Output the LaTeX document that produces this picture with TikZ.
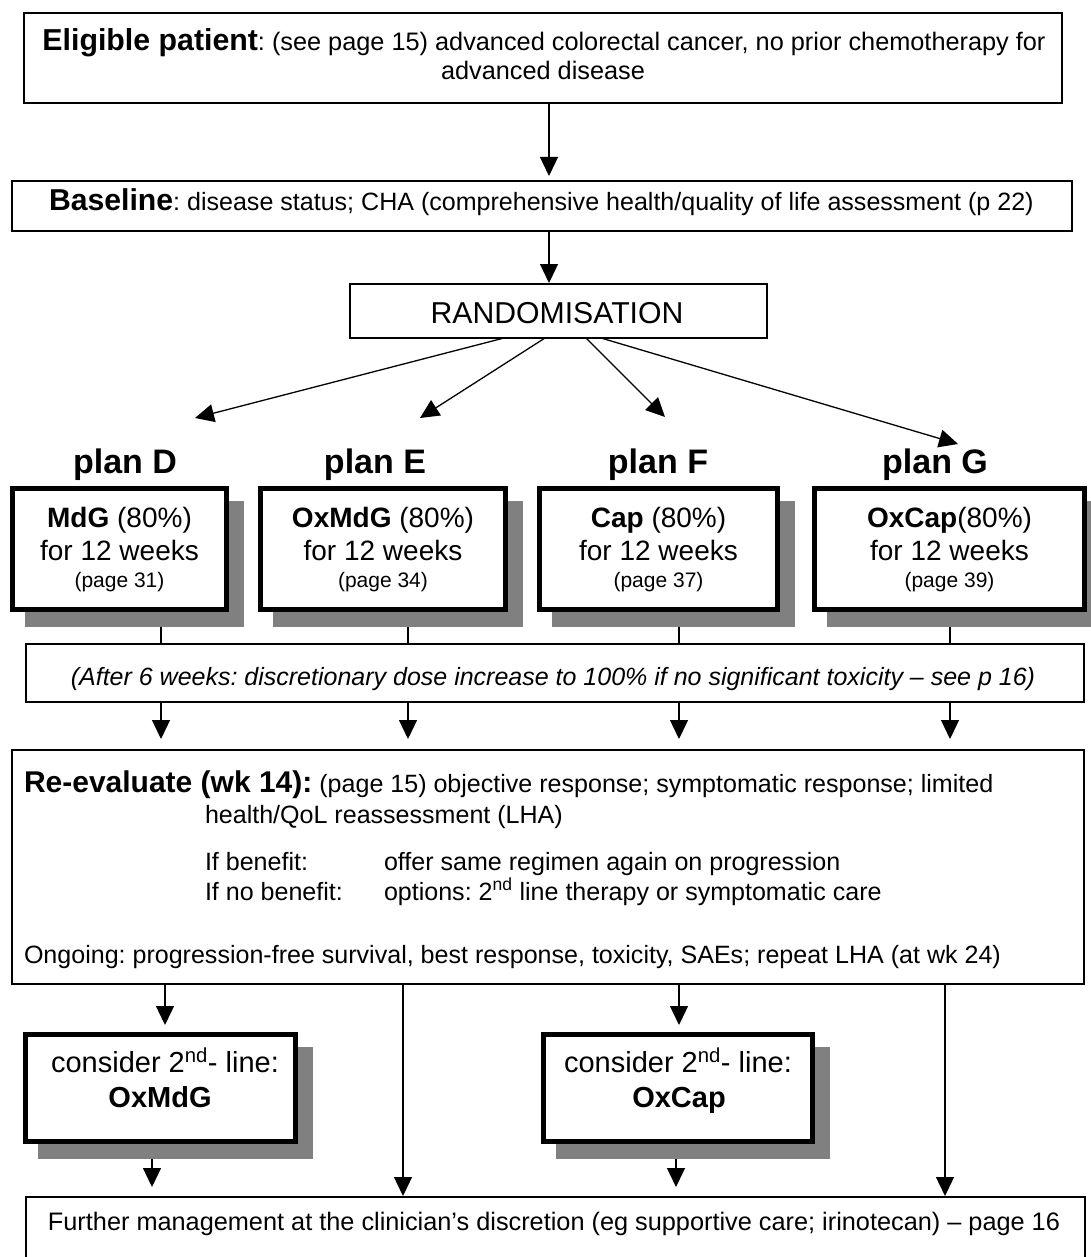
\documentclass[tikz,border=0pt]{standalone}
\usepackage{fontspec}
\setmainfont{Liberation Sans}
\usetikzlibrary{arrows.meta,calc}
\definecolor{shadowgray}{RGB}{128,128,128}
\newcommand\myfs[2]{\fontsize{#1}{#2}\selectfont}
\begin{document}
\frenchspacing
\begin{tikzpicture}[x=1pt,y=-1pt,
  thinbox/.style={draw, line width=1.5pt, outer sep=0pt, inner sep=0pt, fill=white},
  thickbox/.style={draw, line width=5pt, outer sep=0pt, inner sep=0pt, fill=white},
  shadebox/.style={fill=shadowgray, outer sep=0pt, inner sep=0pt},
  lbl/.style={inner sep=0pt, outer sep=0pt, anchor=base},
  lblw/.style={inner sep=0pt, outer sep=0pt, anchor=base west},
  arr/.style={line width=1.3pt, -{Triangle[length=19pt,width=18pt]}},
  conn/.style={line width=1.3pt},
  body/.style={font=\myfs{25.3}{30}},
  bodyb/.style={font=\myfs{25.05}{30}},
]
\useasboundingbox (0,0) rectangle (1090,1257);
\fill[white] (0,0) rectangle (1090,1257);

% x positions of connectors
\coordinate (xa) at (549,0);
\coordinate (xD) at (161,0);
\coordinate (xE) at (408,0);
\coordinate (xF) at (679,0);
\coordinate (xG) at (950,0);
\coordinate (xr1) at (165,0);
\coordinate (xr2) at (403,0);
\coordinate (xr3) at (679,0);
\coordinate (xr4) at (945,0);
\coordinate (xc1) at (152,0);
\coordinate (xc2) at (676,0);

% Eligible
\node[thinbox, minimum width=1038pt, minimum height=90pt] (elig) at (543,58) {};
\node[lbl, body] (elig1) at (544,51) {{\myfs{30.3}{30}\bfseries Eligible patient}: (see page 15) advanced colorectal cancer, no prior chemotherapy for};
\node[lbl, body] (elig2) at (543,80) {advanced disease};

% Baseline
\node[thinbox, minimum width=1060pt, minimum height=50pt] (base) at (542,206) {};
\begin{scope}
  \clip (base.north west) rectangle ([yshift=11.5pt]base.south east);
  \node[lblw, bodyb] (basetext) at (49,211) {{\myfs{30.2}{30}\bfseries Baseline}: disease status; CHA (comprehensive health/quality of life assessment (p 22)};
\end{scope}

% Randomisation
\node[thinbox, minimum width=417pt, minimum height=54pt] (rand) at (558.5,311) {};
\node[lbl] (randtext) at (557,323) {\myfs{30.2}{34}RANDOMISATION};

\draw[arr, shorten >=5pt] (elig.south -| xa) -- (base.north -| xa);
\draw[arr, shorten >=1pt] (base.south -| xa) -- (rand.north -| xa);

% plan labels
\node[lbl] (labD) at (125,473) {\myfs{34}{36}\bfseries plan D};
\node[lbl] (labE) at (375,473) {\myfs{34}{36}\bfseries plan E};
\node[lbl] (labF) at (658,473) {\myfs{34}{36}\bfseries plan F};
\node[lbl] (labG) at (935,473) {\myfs{34}{36}\bfseries plan G};

\coordinate (tipD) at (195,418);
\coordinate (tipE) at (420,418);
\coordinate (tipF) at (665,417);
\coordinate (tipG) at (958,444);
\draw[arr] ([xshift=-54.5pt]rand.south) -- (tipD);
\draw[arr] ([xshift=-13.5pt]rand.south) -- (tipE);
\draw[arr] ([xshift=27.5pt]rand.south) -- (tipF);
\draw[arr] ([xshift=42.5pt]rand.south) -- (tipG);

% plan boxes
\node[shadebox, minimum width=219pt, minimum height=126pt] (shD) at (134.5,564) {};
\node[thickbox, minimum width=214pt, minimum height=121pt] (pD) at (119.5,549) {};
\node[shadebox, minimum width=250pt, minimum height=126pt] (shE) at (398,564) {};
\node[thickbox, minimum width=245pt, minimum height=121pt] (pE) at (383,549) {};
\node[shadebox, minimum width=243pt, minimum height=126pt] (shF) at (673.5,564) {};
\node[thickbox, minimum width=238pt, minimum height=121pt] (pF) at (658.5,549) {};
\node[shadebox, minimum width=275pt, minimum height=126pt] (shG) at (964.5,564) {};
\node[thickbox, minimum width=270pt, minimum height=121pt] (pG) at (949.5,549) {};

\node[lbl] (pD1) at (119.5,527) {\myfs{28}{32}\textbf{MdG} (80\%)};
\node[lbl] (pD2) at (119.5,560) {\myfs{28}{32}for 12 weeks};
\node[lbl] (pD3) at (119.5,587) {\myfs{21}{24}(page 31)};
\node[lbl] (pE1) at (383,527) {\myfs{28}{32}\textbf{OxMdG} (80\%)};
\node[lbl] (pE2) at (383,560) {\myfs{28}{32}for 12 weeks};
\node[lbl] (pE3) at (383,587) {\myfs{21}{24}(page 34)};
\node[lbl] (pF1) at (658.5,527) {\myfs{28}{32}\textbf{Cap} (80\%)};
\node[lbl] (pF2) at (658.5,560) {\myfs{28}{32}for 12 weeks};
\node[lbl] (pF3) at (658.5,587) {\myfs{21}{24}(page 37)};
\node[lbl] (pG1) at (949.5,527) {\myfs{28}{32}\textbf{OxCap}(80\%)};
\node[lbl] (pG2) at (949.5,560) {\myfs{28}{32}for 12 weeks};
\node[lbl] (pG3) at (949.5,587) {\myfs{21}{24}(page 39)};

% after 6 weeks
\node[thinbox, minimum width=1058pt, minimum height=58pt] (after) at (555,673) {};
\node[lbl] (aftertext) at (553,685) {\myfs{25}{28}\itshape (After 6 weeks: discretionary dose increase to 100\% if no significant toxicity -- see p 16)};

\draw[conn] (shD.south -| xD) -- (after.north -| xD);
\draw[conn] (shE.south -| xE) -- (after.north -| xE);
\draw[conn] (shF.south -| xF) -- (after.north -| xF);
\draw[conn] (shG.south -| xG) -- (after.north -| xG);

% re-evaluate
\node[thinbox, minimum width=1072pt, minimum height=234pt] (reeval) at (548,867) {};
\node[lblw, bodyb] (re1) at (24,792) {{\myfs{30}{30}\bfseries Re-evaluate (wk 14):} (page 15) objective response; symptomatic response; limited};
\node[lblw, bodyb] (re2) at (205,823) {health/QoL reassessment (LHA)};
\node[lblw, bodyb] (re3) at (205,870) {If benefit:};
\node[lblw, bodyb] (re4) at (384,870) {offer same regimen again on progression};
\node[lblw, bodyb] (re5) at (205,900) {If no benefit:};
\node[lblw, bodyb] (re6) at (384,900) {options: 2\textsuperscript{nd} line therapy or symptomatic care};
\node[lblw, bodyb] (re7) at (24,963) {Ongoing: progression-free survival, best response, toxicity, SAEs; repeat LHA (at wk 24)};

\draw[arr, shorten >=11pt] (after.south -| xD) -- (reeval.north -| xD);
\draw[arr, shorten >=11pt] (after.south -| xE) -- (reeval.north -| xE);
\draw[arr, shorten >=11pt] (after.south -| xF) -- (reeval.north -| xF);
\draw[arr, shorten >=11pt] (after.south -| xG) -- (reeval.north -| xG);

% consider boxes
\node[shadebox, minimum width=275pt, minimum height=112pt] (shC1) at (175.5,1103) {};
\node[thickbox, minimum width=270pt, minimum height=107pt] (c1) at (160.5,1088) {};
\node[shadebox, minimum width=274pt, minimum height=112pt] (shC2) at (693,1103) {};
\node[thickbox, minimum width=269pt, minimum height=107pt] (c2) at (678,1088) {};
\node[lbl] (c1a) at (165,1072) {\myfs{29}{32}consider 2\textsuperscript{nd}- line:};
\node[lbl] (c1b) at (160,1107) {\myfs{29}{32}\bfseries OxMdG};
\node[lbl] (c2a) at (678,1072) {\myfs{29}{32}consider 2\textsuperscript{nd}- line:};
\node[lbl] (c2b) at (679,1107) {\myfs{29}{32}\bfseries OxCap};

% further
\node[thinbox, minimum width=1059pt, minimum height=80pt] (further) at (555.5,1237) {};
\node[lbl, body] (furthertext) at (554,1230) {Further management at the clinician’s discretion (eg supportive care; irinotecan) -- page 16};

\draw[arr, shorten >=9.5pt] (reeval.south -| xr1) -- (c1.north -| xr1);
\draw[arr, shorten >=1pt] (reeval.south -| xr2) -- (further.north -| xr2);
\draw[arr, shorten >=9.5pt] (reeval.south -| xr3) -- (c2.north -| xr3);
\draw[arr, shorten >=1pt] (reeval.south -| xr4) -- (further.north -| xr4);
\draw[arr, shorten >=10pt] (shC1.south -| xc1) -- (further.north -| xc1);
\draw[arr, shorten >=10pt] (shC2.south -| xc2) -- (further.north -| xc2);
\end{tikzpicture}
\end{document}
